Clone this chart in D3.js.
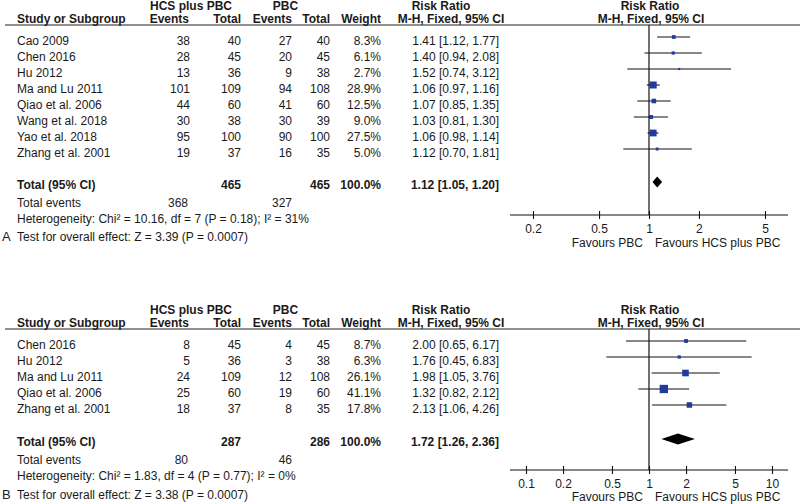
<!DOCTYPE html>
<html>
<head>
<meta charset="utf-8">
<script src="https://cdn.jsdelivr.net/npm/d3@7"></script>
<style>
  html, body { margin: 0; padding: 0; background: #fff; }
  svg { display: block; font-family: "Liberation Sans", Arial, sans-serif; }
  text { fill: #1a1a1a; font-size: 12px; }
  .b { font-weight: bold; }
</style>
</head>
<body>
<svg id="chart" width="800" height="504"></svg>
<script>
// ---------- Panel A data ----------
const studiesA = ["Cao 2009", "Chen 2016", "Hu 2012", "Ma and Lu 2011", "Qiao et al. 2006", "Wang et al. 2018", "Yao et al. 2018", "Zhang et al. 2001"];
const evTreatA = [38, 28, 13, 101, 44, 30, 95, 19];
const nTreatA  = [40, 45, 36, 109, 60, 38, 100, 37];
const evCtrlA  = [27, 20, 9, 94, 41, 30, 90, 16];
const nCtrlA   = [40, 45, 38, 108, 60, 39, 100, 35];
const weightA  = [8.3, 6.1, 2.7, 28.9, 12.5, 9.0, 27.5, 5.0];
const rrA      = [1.41, 1.40, 1.52, 1.06, 1.07, 1.03, 1.06, 1.12];
const loA      = [1.12, 0.94, 0.74, 0.97, 0.85, 0.81, 0.98, 0.70];
const hiA      = [1.77, 2.08, 3.12, 1.16, 1.35, 1.30, 1.14, 1.81];
const totalA   = { nT: 465, nC: 465, evT: 368, evC: 327, rr: 1.12, lo: 1.05, hi: 1.20 };
const hetA     = "Heterogeneity: Chi\u00B2 = 10.16, df = 7 (P = 0.18); I\u00B2 = 31%";
const testA    = "Test for overall effect: Z = 3.39 (P = 0.0007)";
const ticksA   = [0.2, 0.5, 1, 2, 5];

// ---------- Panel B data ----------
const studiesB = ["Chen 2016", "Hu 2012", "Ma and Lu 2011", "Qiao et al. 2006", "Zhang et al. 2001"];
const evTreatB = [8, 5, 24, 25, 18];
const nTreatB  = [45, 36, 109, 60, 37];
const evCtrlB  = [4, 3, 12, 19, 8];
const nCtrlB   = [45, 38, 108, 60, 35];
const weightB  = [8.7, 6.3, 26.1, 41.1, 17.8];
const rrB      = [2.00, 1.76, 1.98, 1.32, 2.13];
const loB      = [0.65, 0.45, 1.05, 0.82, 1.06];
const hiB      = [6.17, 6.83, 3.76, 2.12, 4.26];
const totalB   = { nT: 287, nC: 286, evT: 80, evC: 46, rr: 1.72, lo: 1.26, hi: 2.36 };
const hetB     = "Heterogeneity: Chi\u00B2 = 1.83, df = 4 (P = 0.77); I\u00B2 = 0%";
const testB    = "Test for overall effect: Z = 3.38 (P = 0.0007)";
const ticksB   = [0.1, 0.2, 0.5, 1, 2, 5, 10];

const treatLabel = "HCS plus PBC";
const ctrlLabel = "PBC";
const favLeft = "Favours PBC";
const favRight = "Favours HCS plus PBC";

const svg = d3.select("#chart");
const fmt1 = d3.format(".1f");
const fmt2 = d3.format(".2f");

function drawPanel(p) {
  const g = svg.append("g");
  const top = p.top;                // y of header row 1 text centre
  const hdr2 = top + 13;
  const rule = top + 19;
  const rowY = i => top + 35 + i * 16;
  const n = p.studies.length;
  const totY = rowY(n - 1) + p.totGap;
  const axisY = totY + p.axisGap;

  const T = (x, y, s, anchor, bold, size) => g.append("text")
      .attr("x", x).attr("y", y + 4).attr("text-anchor", anchor || "start")
      .attr("class", bold ? "b" : null)
      .style("font-size", (size || 12) + "px").text(s);

  // headers
  T(191, top, treatLabel, "middle", true);
  T(285.5, top, ctrlLabel, "middle", true);
  T(441, top, "Risk Ratio", "middle", true);
  T(650, top, "Risk Ratio", "middle", true);
  T(17, hdr2, "Study or Subgroup", "start", true);
  T(189, hdr2, "Events", "end", true);
  T(241, hdr2, "Total", "end", true);
  T(292, hdr2, "Events", "end", true);
  T(330, hdr2, "Total", "end", true);
  T(381, hdr2, "Weight", "end", true);
  T(451, hdr2, "M-H, Fixed, 95% CI", "middle", true);
  T(651, hdr2, "M-H, Fixed, 95% CI", "middle", true);
  g.append("line").attr("x1", 5).attr("x2", 800).attr("y1", rule).attr("y2", rule)
    .attr("stroke", "#222").attr("stroke-width", 1.2);

  // scale
  const x = d3.scaleLog().domain([p.ticks[0], p.ticks[p.ticks.length - 1]]).range(p.range);

  // rows
  p.studies.forEach((s, i) => {
    const y = rowY(i);
    T(17, y, s);
    T(190, y, p.evT[i], "end");
    T(241, y, p.nT[i], "end");
    T(292, y, p.evC[i], "end");
    T(330, y, p.nC[i], "end");
    T(381, y, fmt1(p.w[i]) + "%", "end");
    T(499, y, `${fmt2(p.rr[i])} [${fmt2(p.lo[i])}, ${fmt2(p.hi[i])}]`, "end");
    const my = y - 4;
    g.append("line").attr("x1", x(p.lo[i])).attr("x2", x(p.hi[i]))
      .attr("y1", my).attr("y2", my).attr("stroke", "#111").attr("stroke-width", 1.1);
    const side = 1.3 * Math.sqrt(p.w[i]);
    g.append("rect").attr("x", x(p.rr[i]) - side / 2).attr("y", my - side / 2)
      .attr("width", side).attr("height", side).attr("fill", "#1f3c9b");
  });

  // totals
  T(17, totY, "Total (95% CI)", "start", true);
  T(241, totY, p.total.nT, "end", true);
  T(330, totY, p.total.nC, "end", true);
  T(381, totY, "100.0%", "end", true);
  T(499, totY, `${fmt2(p.total.rr)} [${fmt2(p.total.lo)}, ${fmt2(p.total.hi)}]`, "end", true);
  const dy = totY - 3, dh = 5.5;
  g.append("path")
    .attr("d", `M${x(p.total.lo)},${dy} L${x(p.total.rr)},${dy - dh} L${x(p.total.hi)},${dy} L${x(p.total.rr)},${dy + dh} Z`)
    .attr("fill", "#000");

  T(17, totY + p.off[0], "Total events");
  T(188, totY + p.off[0], p.total.evT, "end");
  T(292, totY + p.off[0], p.total.evC, "end");
  T(17, totY + p.off[1], p.het);
  T(17, totY + p.off[2], p.test);
  T(2, totY + p.off[2], p.label, "start", false, 13);

  // vertical line of no effect
  g.append("line").attr("x1", x(1)).attr("x2", x(1)).attr("y1", rule).attr("y2", axisY)
    .attr("stroke", "#111").attr("stroke-width", 1.2);

  // axis
  g.append("line").attr("x1", 510).attr("x2", 788).attr("y1", axisY).attr("y2", axisY)
    .attr("stroke", "#111").attr("stroke-width", 1.1);
  const ax = g.append("g").attr("transform", `translate(0,${axisY})`)
    .call(d3.axisBottom(x).tickValues(p.ticks).tickFormat(d => String(d)).tickSize(4));
  ax.select(".domain").remove();
  ax.selectAll(".tick line").attr("y1", -4).attr("y2", 4).attr("stroke", "#111").attr("stroke-width", 1.1);
  ax.selectAll(".tick text").attr("y", 9).attr("dy", "0.71em")
    .style("font-size", "12px").style("font-family", "'Liberation Sans', Arial, sans-serif").attr("fill", "#1a1a1a");

  T(643, axisY + p.favGap, favLeft, "end");
  T(655, axisY + p.favGap, favRight, "start");
}

drawPanel({
  top: 6, label: "A", studies: studiesA, evT: evTreatA, nT: nTreatA, evC: evCtrlA, nC: nCtrlA,
  w: weightA, rr: rrA, lo: loA, hi: hiA, total: totalA, het: hetA, test: testA,
  ticks: ticksA, range: [533, 765], totGap: 32, axisGap: 30, favGap: 28, off: [18, 34, 52]
});
drawPanel({
  top: 310, label: "B", studies: studiesB, evT: evTreatB, nT: nTreatB, evC: evCtrlB, nC: nCtrlB,
  w: weightB, rr: rrB, lo: loB, hi: hiB, total: totalB, het: hetB, test: testB,
  ticks: ticksB, range: [526, 772], totGap: 33, axisGap: 28, favGap: 27, off: [18, 34, 53]
});
</script>
</body>
</html>
